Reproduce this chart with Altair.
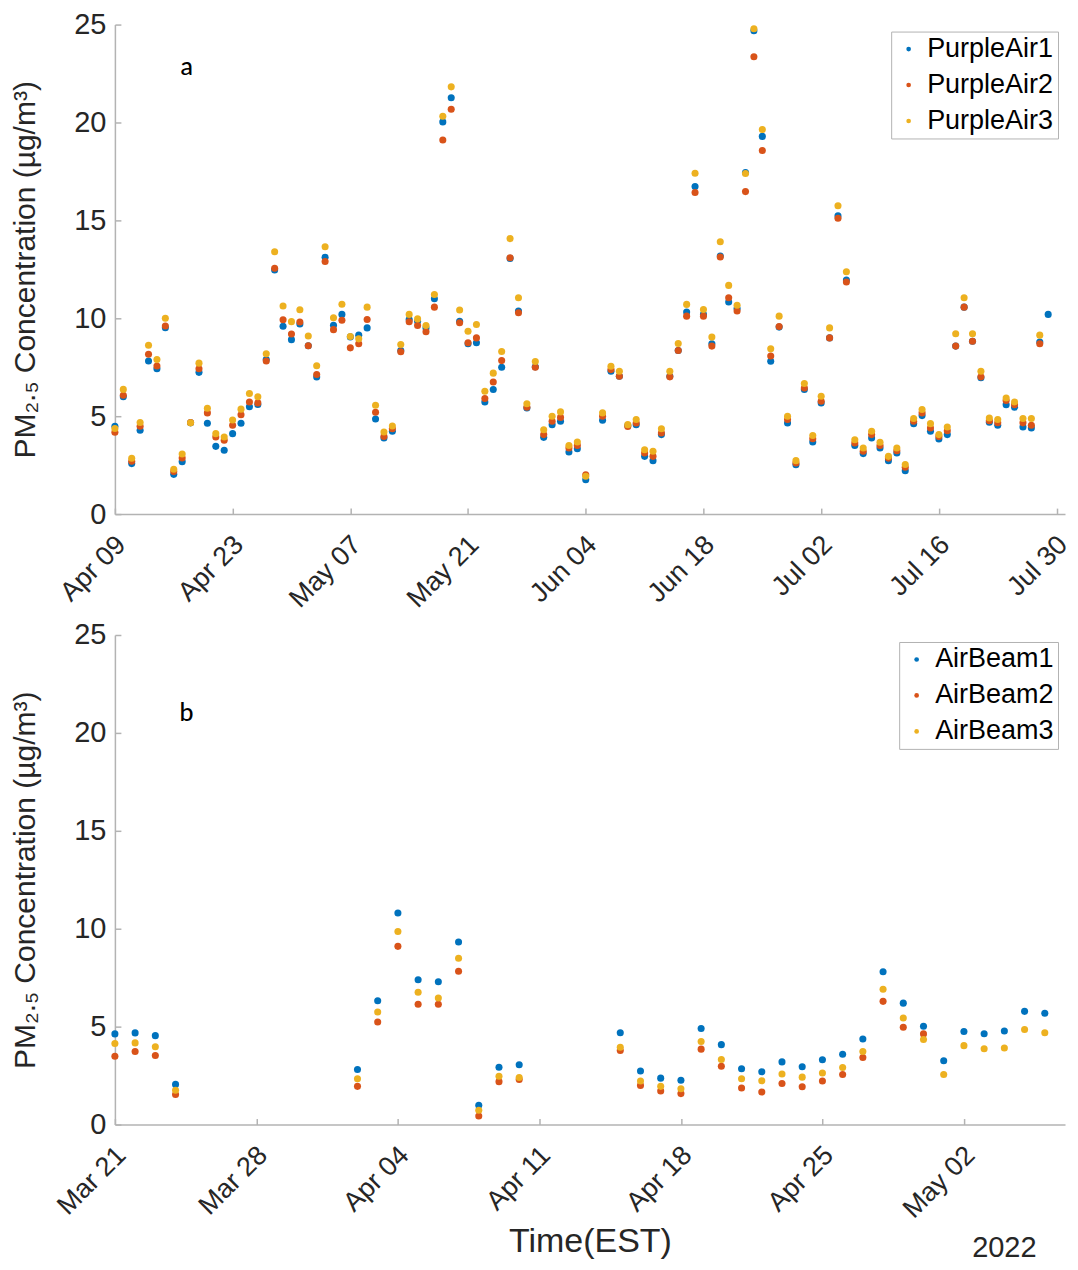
import pandas as pd
import altair as alt

# daily PM2.5 means, None = no reading that day
pa_start = "2022-04-09"
purpleair1 = [4.49, 5.99, 2.58, 4.28, 7.82, 7.42, 9.52, 2.03, 2.68, 4.66,
              7.24, 4.64, 3.46, 3.26, 4.11, 4.64, 5.48, 5.60, 7.90, 12.47,
              9.59, 8.91, 9.71, 8.60, 7.00, 13.12, 9.64, 10.20, 9.05, 9.14,
              9.51, 4.86, 3.89, 4.23, 8.35, 9.94, 9.85, 9.51, 11.00, 20.03,
              21.26, 9.85, 8.70, 8.75, 5.73, 6.36, 7.50, 13.06, 10.37, 5.42,
              7.52, 3.92, 4.57, 4.74, 3.17, 3.34, 1.76, None, 4.79, 7.30,
              7.04, 4.52, 4.57, 2.95, 2.73, 4.06, 7.04, 8.36, 10.32, 16.73,
              10.20, 8.70, 13.18, 10.83, 10.50, 17.44, 24.69, 19.29, 7.81, 9.55,
              4.65, 2.52, 6.36, 3.68, 5.68, 9.00, 15.23, 11.95, 3.50, 3.09,
              3.89, 3.38, 2.73, 3.12, 2.22, 4.62, 5.03, 4.23, 3.84, 4.06,
              8.58, 10.57, 8.83, 6.96, 4.69, 4.54, 5.59, 5.46, 4.45, 4.40,
              8.79, 10.20]
purpleair2 = [4.18, 6.07, 2.70, 4.49, 8.16, 7.56, 9.61, 2.18, 2.87, 4.68,
              7.42, 5.17, 3.94, 3.77, 4.54, 5.07, 5.73, 5.68, 7.82, 12.56,
              9.93, 9.20, 9.81, 8.60, 7.13, 12.90, 9.42, 9.90, 8.49, 8.70,
              9.94, 5.20, 3.97, 4.36, 8.29, 9.82, 9.63, 9.31, 10.57, 19.11,
              20.68, 9.77, 8.75, 9.00, 5.90, 6.75, 7.84, 13.09, 10.28, 5.46,
              7.50, 4.06, 4.74, 4.94, 3.38, 3.51, 2.01, None, 5.00, 7.38,
              7.04, 4.48, 4.65, 3.12, 2.95, 4.14, 7.01, 8.36, 10.11, 16.42,
              10.11, 8.58, 13.13, 11.05, 10.37, 16.47, 23.36, 18.57, 8.07, 9.58,
              4.83, 2.61, 6.44, 3.85, 5.76, 9.00, 15.11, 11.85, 3.63, 3.21,
              4.06, 3.50, 2.86, 3.24, 2.39, 4.74, 5.17, 4.40, 3.97, 4.26,
              8.58, 10.57, 8.83, 7.01, 4.77, 4.67, 5.80, 5.59, 4.66, 4.54,
              8.70, None]
purpleair3 = [4.37, 6.37, 2.85, 4.68, 8.62, 7.90, 10.00, 2.29, 3.07, 4.66,
              7.71, 5.41, 4.11, 3.94, 4.81, 5.36, 6.16, 5.99, 8.19, 13.40,
              10.63, 9.83, 10.44, 9.10, 7.58, 13.65, 10.03, 10.72, 9.07, 8.95,
              10.57, 5.56, 4.19, 4.50, 8.66, 10.20, 9.97, 9.63, 11.22, 20.32,
              21.82, 10.42, 9.34, 9.68, 6.27, 7.20, 8.30, 14.07, 11.05, 5.64,
              7.79, 4.31, 5.00, 5.22, 3.50, 3.68, 1.93, None, 5.17, 7.55,
              7.30, 4.57, 4.83, 3.29, 3.21, 4.36, 7.30, 8.71, 10.71, 17.41,
              10.45, 9.04, 13.91, 11.68, 10.67, 17.39, 24.79, 19.64, 8.44, 10.11,
              5.00, 2.73, 6.67, 4.01, 6.02, 9.51, 15.75, 12.38, 3.80, 3.38,
              4.23, 3.67, 2.95, 3.38, 2.53, 4.88, 5.34, 4.62, 4.06, 4.45,
              9.21, 11.05, 9.21, 7.30, 4.91, 4.83, 5.93, 5.73, 4.88, 4.88,
              9.14, None]

ab_start = "2022-03-21"
airbeam1 = [4.63, 4.68, 4.54, 2.05, None, None, None, None, None, None,
            None, None, 2.81, 6.32, 10.80, 7.39, 7.29, 9.32, 0.98, 2.93,
            3.05, None, None, None, None, 4.69, 2.73, 2.37, 2.26, 4.90,
            4.08, 2.85, 2.70, 3.20, 2.95, 3.31, 3.59, 4.37, 7.80, 6.20,
            5.02, 3.26, 4.75, 4.64, 4.78, 5.78, 5.68]
airbeam2 = [3.49, 3.73, 3.53, 1.53, None, None, None, None, None, None,
            None, None, 1.95, 5.24, 9.10, 6.14, 6.14, 7.83, 0.44, 2.19,
            2.30, None, None, None, None, 3.78, 2.00, 1.71, 1.58, 3.85,
            2.98, 1.87, 1.66, 2.10, 1.93, 2.22, 2.56, 3.42, 6.29, 4.97,
            4.63, None, None, None, None, None, None]
airbeam3 = [4.14, 4.17, 3.97, 1.75, None, None, None, None, None, None,
            None, None, 2.34, 5.75, 9.86, 6.76, 6.46, 8.49, 0.73, 2.47,
            2.40, None, None, None, None, 3.95, 2.22, 1.95, 1.83, 4.24,
            3.32, 2.34, 2.24, 2.58, 2.42, 2.63, 2.91, 3.73, 6.91, 5.44,
            4.34, 2.56, 4.03, 3.87, 3.91, 4.85, 4.69]

pa_names = ["PurpleAir1", "PurpleAir2", "PurpleAir3"]
ab_names = ["AirBeam1", "AirBeam2", "AirBeam3"]
colors = ["#0072BD", "#D95319", "#EDB120"]

pa_domain = ["2022-04-09", "2022-07-31"]
ab_domain = ["2022-03-21", "2022-05-07"]
pa_ticks = ["2022-04-09", "2022-04-23", "2022-05-07", "2022-05-21", "2022-06-04",
            "2022-06-18", "2022-07-02", "2022-07-16", "2022-07-30"]
ab_ticks = ["2022-03-21", "2022-03-28", "2022-04-04", "2022-04-11", "2022-04-18",
            "2022-04-25", "2022-05-02"]
y_ticks = [0, 5, 10, 15, 20, 25]

FONT = "Liberation Sans"
INK = "#262626"
GRAY = "#b3b3b3"


def dt(s, hours=0):
    y, m, d = (int(p) for p in s.split("-"))
    return alt.DateTime(year=y, month=m, date=d, hours=hours)


def to_long(start, names, series):
    days = pd.date_range(start, periods=len(series[0]), freq="D")
    frames = [pd.DataFrame({"date": days, "sensor": n,
                            "pm": pd.Series(v, dtype="float")})
              for n, v in zip(names, series)]
    return pd.concat(frames).dropna()


def panel(df, names, domain, ticks, x_title):
    # MATLAB-like inward ticks: negative tick size passed as an expression
    x_axis = alt.Axis(values=[dt(t) for t in ticks], format="%b %d",
                      labelAngle=315, labelAlign="right", labelBaseline="top",
                      labelPadding=23, labelOffset=-3, labelFontSize=27,
                      labelFont=FONT, labelColor=INK, domainColor=GRAY,
                      domainWidth=1.5, tickColor=GRAY, tickWidth=1.5,
                      tickSize=alt.ExprRef("-6"), grid=False, title=x_title,
                      titleFont=FONT, titleFontSize=34,
                      titleFontWeight="normal", titleColor=INK,
                      titlePadding=2)
    y_axis = alt.Axis(values=y_ticks, labelFontSize=29, labelFont=FONT,
                      labelColor=INK, labelPadding=15, domainColor=GRAY,
                      domainWidth=1.5, tickColor=GRAY, tickWidth=1.5,
                      tickSize=alt.ExprRef("-6"), grid=False,
                      title="PM\u2082.\u2085 Concentration (\u00b5g/m\u00b3)",
                      titleFont=FONT, titleFontSize=30,
                      titleFontWeight="normal", titleColor=INK,
                      titlePadding=33)
    legend = alt.Legend(title=None, orient="top-right", offset=7,
                        strokeColor=GRAY, fillColor="white", padding=4,
                        labelFont=FONT, labelFontSize=27, labelColor="black",
                        symbolType="circle", symbolSize=22,
                        symbolStrokeWidth=0, labelOffset=5, rowPadding=8)
    dots = alt.Chart(df).mark_circle(size=50, opacity=1).encode(
        x=alt.X("date:T", scale=alt.Scale(domain=[dt(d) for d in domain], nice=False),
                axis=x_axis),
        y=alt.Y("pm:Q", scale=alt.Scale(domain=[0, 25], nice=False), axis=y_axis),
        color=alt.Color("sensor:N", scale=alt.Scale(domain=names, range=colors),
                        legend=legend),
    )
    return dots


top_df = to_long(pa_start, pa_names, [purpleair1, purpleair2, purpleair3])
bot_df = to_long(ab_start, ab_names, [airbeam1, airbeam2, airbeam3])

one = pd.DataFrame({"k": [0]})
tag_a = alt.Chart(one).mark_text(text="a", font="Lato", fontSize=25,
                                  fontWeight=500, align="center",
                                  baseline="alphabetic", color="black").encode(
    x=alt.datum(dt("2022-04-17", 13)), y=alt.datum(22.4))
tag_b = alt.Chart(one).mark_text(text="b", font="Lato", fontSize=25,
                                  fontWeight=500, align="center",
                                  baseline="alphabetic", color="black").encode(
    x=alt.datum(dt("2022-03-24", 13)), y=alt.datum(20.6))
year = alt.Chart(one).mark_text(text="2022", font=FONT, fontSize=29,
                                 align="center", baseline="middle",
                                 color=INK).encode(
    x=alt.datum(dt("2022-05-04")), y=alt.datum(-6.3))

top = alt.layer(panel(top_df, pa_names, pa_domain, pa_ticks, None), tag_a).properties(
    width=951, height=490)
bottom = alt.layer(panel(bot_df, ab_names, ab_domain, ab_ticks, "Time(EST)"),
                   tag_b, year).properties(width=951, height=490)

# negative right/bottom padding keeps the page inside the 1078x1270 window
chart = alt.vconcat(top, bottom, spacing=121, bounds="flush").resolve_scale(
    x="independent", y="independent", color="independent"
).properties(
    padding={"left": 2, "top": 1, "right": -3, "bottom": -2}
).configure_view(stroke="transparent")

chart.save("out.html", embed_options={"renderer": "svg", "actions": False})
